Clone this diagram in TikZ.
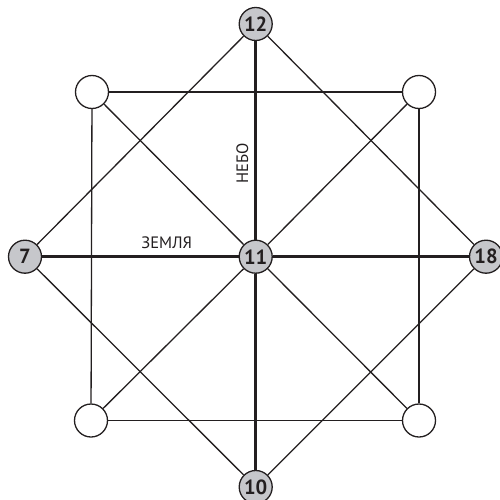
\documentclass[tikz,border=0pt]{standalone}
\usepackage{fontspec}
\setmainfont{PT Sans}
\definecolor{nodegray}{RGB}{198,199,203}
\definecolor{ink}{RGB}{35,31,32}
\begin{document}
\begin{tikzpicture}[x=1pt,y=1pt,
  graynode/.style={circle,draw=ink,line width=1.3pt,fill=nodegray,minimum size=33pt,inner sep=0pt,font=\fontsize{20.5}{20.5}\selectfont\bfseries,text=ink},
  whitenode/.style={circle,draw=ink,line width=1.3pt,fill=white,minimum size=33pt,inner sep=0pt},
  thin/.style={draw=ink,line width=1.3pt},
  thick/.style={draw=ink,line width=3.2pt},
  lbl/.style={font=\fontsize{16.5}{16.5}\selectfont,text=ink,inner sep=0pt}]
\useasboundingbox (0,0) rectangle (500,499);
\node[graynode] (n12) at (255.7,475) {12};
\node[graynode] (n7) at (25,242.3) {7};
\node[graynode] (n11) at (255.7,242.3) {11};
\node[graynode] (n18) at (486,242.3) {18};
\node[graynode] (n10) at (255.7,12) {10};
\node[whitenode] (tl) at (92,407) {};
\node[whitenode] (tr) at (419,407) {};
\node[whitenode] (bl) at (91,78.5) {};
\node[whitenode] (br) at (419,78.5) {};
% square
\draw[thin] (tl) -- (tr);
\draw[thin] (tr) -- (br);
\draw[thin] (br) -- (bl);
\draw[thin] (bl) -- (tl);
% diamond
\draw[thin] (n12) -- (n7);
\draw[thin] (n7) -- (n10);
\draw[thin] (n10) -- (n18);
\draw[thin] (n18) -- (n12);
% diagonals to centre
\draw[thin] (tl) -- (n11);
\draw[thin] (tr) -- (n11);
\draw[thin] (bl) -- (n11);
\draw[thin] (br) -- (n11);
% thick cross
\draw[thick] (n12) -- (n11);
\draw[thick] (n11) -- (n10);
\draw[thick] (n7) -- (n11);
\draw[thick] (n11) -- (n18);
% labels
\node[lbl] (zemlya) at (166.7,256.5) {ЗЕМЛЯ};
\node[lbl,rotate=90] (nebo) at (242.3,335.7) {НЕБО};
\end{tikzpicture}
\end{document}
